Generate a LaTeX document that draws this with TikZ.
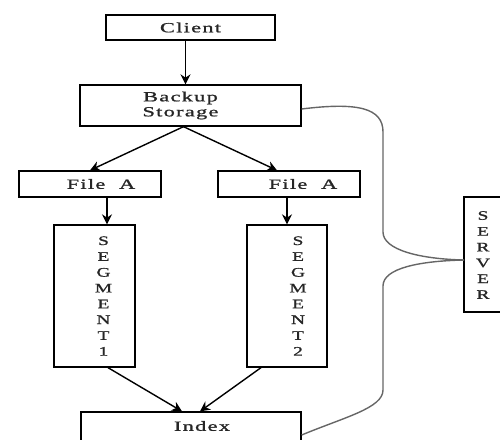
\documentclass[tikz,border=0pt]{standalone}
\usepackage{fontspec}
\newfontfamily\df[FakeStretch=1.6,LetterSpace=9,FakeBold=1.2]{Liberation Serif}
\newfontfamily\dv[FakeStretch=1.5,FakeBold=1.2]{Liberation Serif}
\usetikzlibrary{arrows.meta}
\begin{document}
\begin{tikzpicture}[x=1pt,y=-1pt,
  box/.style={draw=black,line width=1.3pt,rectangle,inner sep=0pt,font=\df\fontsize{14}{15}\selectfont,align=center,text=black!85},
  htext/.style={inner sep=0pt,font=\df\fontsize{14}{15}\selectfont,align=center,text=black!85},
  vtext/.style={inner sep=0pt,font=\dv\fontsize{13}{15.8}\selectfont,align=center,text=black!85},
  arr/.style={-{Stealth[length=10pt,width=10pt]},line width=1.4pt,black},
  brace/.style={draw=black!60,line width=1.4pt}]
\useasboundingbox (0,0) rectangle (500,439);
\clip (0,0) rectangle (500,439);
\node[box,minimum width=169pt,minimum height=25pt] (client) at (190.5,27.5) {Client};
\node[box,minimum width=221pt,minimum height=41pt] (backup) at (190.5,105.5) {};
\node[htext] (backupt) at ([xshift=-10pt]backup.center) {Backup\\Storage};
\node[box,minimum width=142pt,minimum height=26pt] (fileL) at (90,184) {};
\node[htext] (fileLt) at ([xshift=11pt]fileL.center) {File\ \ A};
\node[box,minimum width=142pt,minimum height=26pt] (fileR) at (289,184) {};
\node[htext] (fileRt) at ([xshift=14pt]fileR.center) {File\ \ A};
\node[box,minimum width=81pt,minimum height=142pt] (seg1) at (94.5,296) {};
\node[box,minimum width=80pt,minimum height=142pt] (seg2) at (287,296) {};
\node[vtext] (seg1t) at ([xshift=9pt]seg1.center) {S\\E\\G\\M\\E\\N\\T\\1};
\node[vtext] (seg2t) at ([xshift=11pt]seg2.center) {S\\E\\G\\M\\E\\N\\T\\2};
\node[box,minimum width=220pt,minimum height=36pt] (index) at (191,430) {};
\node[htext] (indext) at (202,426) {Index};
\node[box,minimum width=42pt,minimum height=115pt] (server) at (485,254.5) {};
\node[vtext] (servert) at (483,255) {S\\E\\R\\V\\E\\R};
\coordinate (s) at (464,260);
% arrows
\draw[arr] ([xshift=-5pt]client.south) -- ([xshift=-5pt]backup.north);
\draw[arr] ([xshift=-7pt]backup.south) -- (fileL.north);
\draw[arr] ([xshift=-7pt]backup.south) -- ([xshift=-12pt]fileR.north);
\draw[arr] ([xshift=17pt]fileL.south) -- ([xshift=12.5pt]seg1.north);
\draw[arr] ([xshift=-2pt]fileR.south) -- (seg2.north);
\draw[arr] ([xshift=13.5pt]seg1.south) -- ([xshift=-9pt]index.north);
\draw[arr] ([xshift=-26pt]seg2.south) -- ([xshift=9pt]index.north);
% brace
\draw[brace] ([yshift=-3.5pt]backup.east) .. controls (358,102) and (383,108) .. (383,132) -- (383,232) .. controls (383,250) and (420,259) .. (s);
\draw[brace] (s) .. controls (420,261) and (383,268) .. (383,286) -- (383,390) .. controls (383,408) and (345,417) .. ([yshift=-5pt]index.east);
\end{tikzpicture}
\end{document}
